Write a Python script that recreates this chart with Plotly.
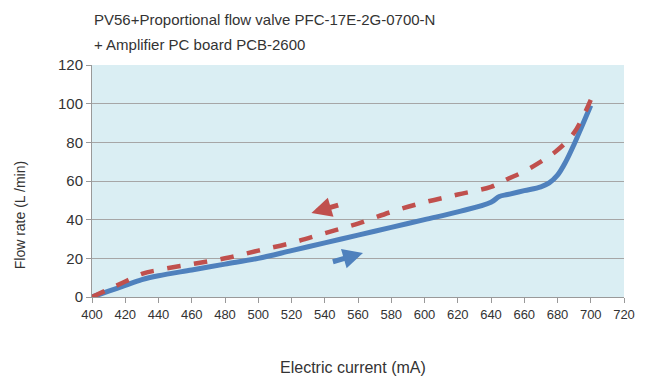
import plotly.graph_objects as go

# Rising current (blue, solid)
up_current = [400, 410, 420, 430, 440, 460, 480, 500, 520, 540, 560, 580, 600, 620, 640, 645, 650, 660, 670, 675, 680, 685, 690, 695, 700]
up_flow = [0, 3, 6, 9, 11, 14, 17, 20, 24, 28, 32, 36, 40, 44, 49, 52, 53, 55, 57, 59, 63, 70, 79, 89, 99]

# Falling current (red, dashed)
down_current = [400, 410, 420, 430, 440, 460, 480, 500, 520, 540, 560, 580, 600, 620, 640, 650, 660, 670, 680, 690, 700]
down_flow = [0, 4, 8, 12, 14, 17, 20, 24, 28, 33, 38, 44, 49, 53, 57, 61, 65, 70, 76, 85, 102]

title_lines = ["PV56+Proportional flow valve PFC-17E-2G-0700-N", "+ Amplifier PC board PCB-2600"]

fig = go.Figure()
fig.add_trace(go.Scatter(x=up_current, y=up_flow, mode="lines", line=dict(color="#4f81bd", width=5, shape="spline"), showlegend=False))
fig.add_trace(go.Scatter(x=down_current, y=down_flow, mode="lines", line=dict(color="#c0504d", width=4.5, dash="dash", shape="spline"), showlegend=False))

# direction arrows
fig.add_annotation(x=532, y=43.5, ax=549, ay=47.8, xref="x", yref="y", axref="x", ayref="y",
                   showarrow=True, arrowhead=2, arrowsize=0.8, arrowwidth=5, arrowcolor="#c0504d", text="")
fig.add_annotation(x=563, y=22.8, ax=544, ay=18, xref="x", yref="y", axref="x", ayref="y",
                   showarrow=True, arrowhead=2, arrowsize=0.8, arrowwidth=5, arrowcolor="#4f81bd", text="")

# title lines and axis titles
fig.add_annotation(text=title_lines[0], x=0, y=1.198, xref="paper", yref="paper", xanchor="left", yanchor="middle",
                   showarrow=False, font=dict(size=15))
fig.add_annotation(text=title_lines[1], x=0, y=1.09, xref="paper", yref="paper", xanchor="left", yanchor="middle",
                   showarrow=False, font=dict(size=15))
fig.add_annotation(text="Flow rate (L /min)", x=-0.135, y=0.353, xref="paper", yref="paper", textangle=-90,
                   xanchor="center", yanchor="middle", showarrow=False, font=dict(size=14))
fig.add_annotation(text="Electric current (mA)", x=0.49, y=-0.306, xref="paper", yref="paper",
                   xanchor="center", yanchor="middle", showarrow=False, font=dict(size=16))

fig.update_layout(
    width=639, height=373,
    margin=dict(l=84, r=12, t=57, b=84),
    paper_bgcolor="white",
    plot_bgcolor="#daeef3",
    font=dict(family="Liberation Sans, Arial", size=14, color="#333333"),
    xaxis=dict(range=[400, 720], dtick=20, tick0=400, showgrid=False, zeroline=False,
               ticks="outside", ticklen=5, tickcolor="#999999", showline=True, linecolor="#999999",
               tickfont=dict(size=13)),
    yaxis=dict(range=[0, 120], dtick=20, showgrid=True, gridcolor="#a6a6a6", gridwidth=1, zeroline=False,
               ticks="outside", ticklen=5, tickcolor="#999999", showline=True, linecolor="#999999",
               tickfont=dict(size=15)),
)

fig.write_html("out.html")
